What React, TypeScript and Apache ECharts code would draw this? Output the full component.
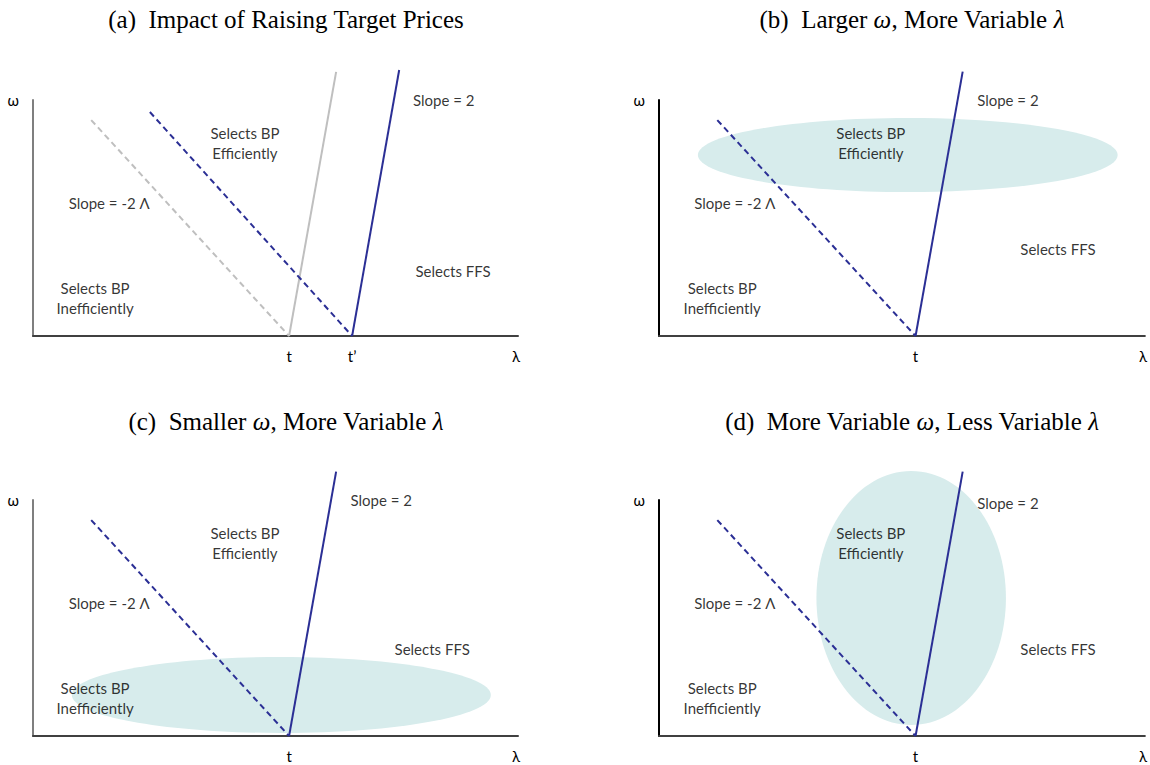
import React, { useEffect, useRef } from "react";
import * as echarts from "echarts";

// ---------- data ----------
const panelTitles = [
  "{n|(a)\u2002Impact of Raising Target Prices}",
  "{n|(b)\u2002Larger }{i|ω}{n|, More Variable }{i|λ}",
  "{n|(c)\u2002Smaller }{i|ω}{n|, More Variable }{i|λ}",
  "{n|(d)\u2002More Variable }{i|ω}{n|, Less Variable }{i|λ}",
];

// x-axis tick labels (λ axis)
const xTickValues = [
  [52.8, 65.8, 99.6],
  [52.8, 99.6],
  [52.8, 99.6],
  [52.8, 99.6],
];
const xTickLabels = [
  ["t", "t’", "λ"],
  ["t", "λ"],
  ["t", "λ"],
  ["t", "λ"],
];
const yTickValues = [100];
const yTickLabels = ["ω"];

// panel (a): old (grey) and new (blue) boundaries
const oldDashed = [[12.0, 91.5], [52.8, 0]];
const oldSolid = [[52.8, 0], [62.5, 111.9]];
const newDashed = [[24.1, 94.9], [65.8, 0]];
const newSolid = [[65.8, 0], [75.5, 112.7]];

// panels (b)-(d): boundaries
const dashedBoundary = [[12.0, 91.5], [52.8, 0]];
const solidBoundary = [[52.8, 0], [62.5, 112.0]];

// ellipses: [centerX, centerY, radiusX, radiusY] for panels b, c, d
const ellipseB = [[51.2, 76.7, 43.2, 15.7]];
const ellipseC = [[51.2, 17.4, 43.2, 16.1]];
const ellipseD = [[51.9, 58.5, 19.5, 53.8]];

// region annotations
const annotationTexts = [
  "Slope = 2",
  "Selects BP\nEfficiently",
  "Slope = -2 Λ",
  "Selects FFS",
  "Selects BP\nInefficiently",
];
const annotationPosA = [[84.7, 100], [43.7, 81.8], [15.7, 56.4], [86.6, 27.5], [12.8, 16.1]];
const annotationPosB = [[71.8, 100], [43.6, 81.8], [15.6, 56.4], [82.1, 36.9], [13.0, 16.1]];
const annotationPosC = [[71.8, 100], [43.7, 81.8], [15.7, 56.4], [82.3, 36.9], [12.8, 16.1]];
const annotationPosD = [[71.8, 98.7], [43.6, 81.8], [15.6, 56.4], [82.1, 36.9], [13.0, 16.1]];

// ---------- styles ----------
const BLUE = "#2B2F95";
const GREY = "#BFBFBF";
const FILL = "#D7ECEC";
const SANS = "Lato";
const SERIF = "Liberation Serif";

const grids = [
  { left: 33, top: 100, width: 485, height: 236 },
  { left: 659, top: 100, width: 486, height: 236 },
  { left: 33, top: 500, width: 485, height: 236 },
  { left: 659, top: 500, width: 486, height: 236 },
];
const titlePos = [
  [286, 19],
  [912, 19],
  [286, 421],
  [912, 421],
];
const yAxisColors = ["#7F7F7F", "#000000", "#7F7F7F", "#000000"];

function lineSeries(data: number[][], idx: number, color: string, dashed: boolean) {
  return {
    type: "line",
    xAxisIndex: idx,
    yAxisIndex: idx,
    data,
    symbol: "none",
    clip: false,
    z: 3,
    lineStyle: { color, width: 2, type: dashed ? [6, 4] : "solid" },
  };
}

function ellipseSeries(data: number[][], idx: number) {
  return {
    type: "custom",
    xAxisIndex: idx,
    yAxisIndex: idx,
    data,
    z: 1,
    clip: false,
    encode: { x: 0, y: 1 },
    renderItem: (params: any, api: any) => {
      const c = api.coord([api.value(0), api.value(1)]);
      const s = api.size([api.value(2), api.value(3)]);
      return {
        type: "ellipse",
        shape: { cx: c[0], cy: c[1], rx: s[0], ry: s[1] },
        style: { fill: FILL },
      };
    },
  };
}

function annotationSeries(pos: number[][], idx: number) {
  return {
    type: "scatter",
    xAxisIndex: idx,
    yAxisIndex: idx,
    symbolSize: 1,
    z: 5,
    itemStyle: { color: "rgba(0,0,0,0)" },
    data: pos.map((p, i) => ({ value: p, name: annotationTexts[i] })),
    label: {
      show: true,
      position: "inside",
      formatter: (p: any) => p.name,
      color: "#000",
      fontFamily: SANS,
      fontSize: 15,
      lineHeight: 20,
      align: "center",
      verticalAlign: "middle",
    },
  };
}

export default function App() {
  const ref = useRef<HTMLDivElement>(null);
  useEffect(() => {
    if (!ref.current) return;
    const chart = echarts.init(ref.current, undefined, { renderer: "svg" });
    const xAxis = grids.map((_, i) => ({
      type: "value",
      gridIndex: i,
      min: 0,
      max: 100,
      axisLine: { show: true, lineStyle: { color: "#404040", width: 2 } },
      axisTick: { show: false },
      splitLine: { show: false },
      axisLabel: {
        customValues: xTickValues[i],
        formatter: (v: number) => {
          const k = xTickValues[i].indexOf(v);
          return k >= 0 ? xTickLabels[i][k] : "";
        },
        color: "#000",
        fontFamily: SANS,
        fontSize: 15,
        margin: 12,
      },
    }));
    const yAxis = grids.map((_, i) => ({
      type: "value",
      gridIndex: i,
      min: 0,
      max: 100,
      axisLine: { show: true, lineStyle: { color: yAxisColors[i], width: 2 } },
      axisTick: { show: false },
      splitLine: { show: false },
      axisLabel: {
        customValues: yTickValues,
        formatter: (v: number) => {
          const k = yTickValues.indexOf(v);
          return k >= 0 ? yTickLabels[k] : "";
        },
        color: "#000",
        fontFamily: SANS,
        fontSize: 15,
        margin: 14,
      },
    }));
    const series: any[] = [
      lineSeries(oldDashed, 0, GREY, true),
      lineSeries(oldSolid, 0, GREY, false),
      lineSeries(newDashed, 0, BLUE, true),
      lineSeries(newSolid, 0, BLUE, false),
      annotationSeries(annotationPosA, 0),
      ellipseSeries(ellipseB, 1),
      lineSeries(dashedBoundary, 1, BLUE, true),
      lineSeries(solidBoundary, 1, BLUE, false),
      annotationSeries(annotationPosB, 1),
      ellipseSeries(ellipseC, 2),
      lineSeries(dashedBoundary, 2, BLUE, true),
      lineSeries(solidBoundary, 2, BLUE, false),
      annotationSeries(annotationPosC, 2),
      ellipseSeries(ellipseD, 3),
      lineSeries(dashedBoundary, 3, BLUE, true),
      lineSeries(solidBoundary, 3, BLUE, false),
      annotationSeries(annotationPosD, 3),
    ];
    const graphic = panelTitles.map((t, i) => ({
      type: "text",
      x: titlePos[i][0],
      y: titlePos[i][1],
      style: {
        text: t,
        align: "center",
        verticalAlign: "middle",
        fontFamily: SERIF,
        fontSize: 25,
        fill: "#000",
        rich: {
          n: { fontFamily: SERIF, fontSize: 25, fill: "#000" },
          i: { fontFamily: SERIF, fontSize: 25, fontStyle: "italic", fill: "#000" },
        },
      },
    }));
    chart.setOption({
      animation: false,
      backgroundColor: "#fff",
      grid: grids.map((g) => ({ ...g, containLabel: false })),
      xAxis,
      yAxis,
      series,
      graphic,
    });
    return () => chart.dispose();
  }, []);
  return (
    <div
      ref={ref}
      style={{ position: "fixed", left: 0, top: 0, width: 1150, height: 765 }}
    />
  );
}
